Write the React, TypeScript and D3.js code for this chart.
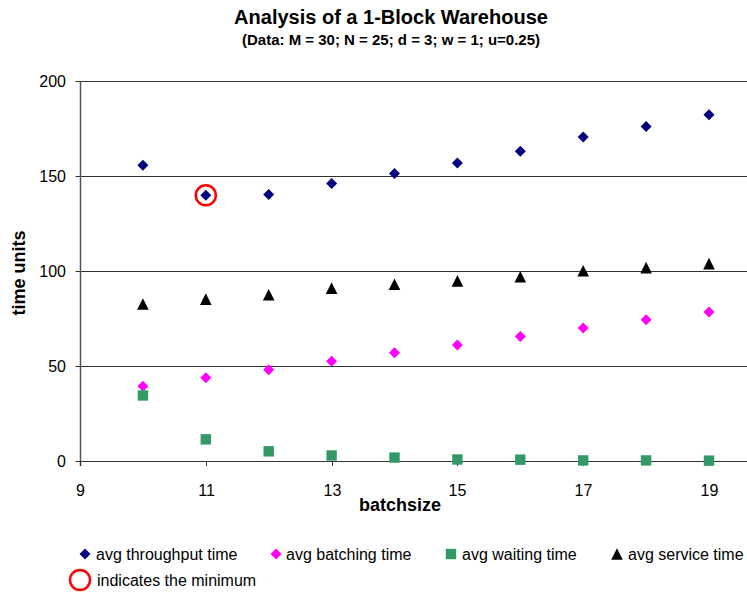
import React from "react";
import * as d3 from "d3";

const batchsize = [10, 11, 12, 13, 14, 15, 16, 17, 18, 19];
const throughput = [155.6, 139.9, 140.3, 146, 151.3, 156.9, 163, 170.5, 176, 182.3];
const batching = [39.3, 43.8, 48, 52.5, 57, 61, 65.5, 70, 74.4, 78.4];
const waiting = [34.5, 11.4, 5.1, 2.9, 1.8, 0.8, 0.7, 0.3, 0.3, 0.2];
const service = [82.6, 85.2, 87.5, 91, 93, 94.8, 97, 100.1, 101.8, 103.9];
const xTicks = [9, 11, 13, 15, 17, 19];
const yTicks = [0, 50, 100, 150, 200];
const minimumX = 11;
const minimumY = 139.9;

const W = 747;
const H = 592;
const FONT = "Arial, 'Liberation Sans', sans-serif";

const x = d3.scaleLinear().domain([9, 20]).range([80, 80 + 11 * 62.9]);
const y = d3.scaleLinear().domain([0, 200]).range([461, 81]);

const diamond = (cx: number, cy: number, r = 5.5) =>
  `M${cx},${cy - r}L${cx + r},${cy}L${cx},${cy + r}L${cx - r},${cy}Z`;
const square = (cx: number, cy: number, r = 5.2) =>
  `M${cx - r},${cy - r}H${cx + r}V${cy + r}H${cx - r}Z`;
const triangle = (cx: number, cy: number, r = 5.8) =>
  `M${cx},${cy - r}L${cx + r},${cy + r}L${cx - r},${cy + r}Z`;

const series = [
  { name: "avg throughput time", values: throughput, color: "#000080", shape: diamond },
  { name: "avg batching time", values: batching, color: "#FF00FF", shape: diamond },
  { name: "avg waiting time", values: waiting, color: "#339966", shape: square },
  { name: "avg service time", values: service, color: "#000000", shape: triangle },
];

const legendPos = [
  { mx: 85, tx: 96 },
  { mx: 276, tx: 286 },
  { mx: 451, tx: 462 },
  { mx: 617, tx: 628 },
];

export default function App() {
  const x0 = Math.round(x(9)) + 0.5;
  return (
    <svg
      width={W}
      height={H}
      style={{ position: "absolute", left: 0, top: 0, background: "#fff" }}
      fontFamily={FONT}
    >
      <rect x={0} y={0} width={W} height={H} fill="#fff" />
      <text x={391} y={24} textAnchor="middle" fontSize={20} fontWeight="bold">
        Analysis of a 1-Block Warehouse
      </text>
      <text x={391} y={45} textAnchor="middle" fontSize={15} fontWeight="bold">
        (Data: M = 30; N = 25; d = 3; w = 1; u=0.25)
      </text>

      {yTicks.map((t) => {
        const yy = Math.round(y(t)) + 0.5;
        return (
          <g key={t}>
            <line x1={x0 - 5} x2={W} y1={yy} y2={yy} stroke="#333" strokeWidth={1.2} />
            <text x={66} y={yy} dy="0.35em" textAnchor="end" fontSize={16}>
              {t}
            </text>
          </g>
        );
      })}
      <line x1={x0} x2={x0} y1={y(200)} y2={y(0) + 5} stroke="#555" strokeWidth={1.5} />
      {xTicks.map((t) => {
        const xx = Math.round(x(t)) + 0.5;
        return (
          <g key={t}>
            <line x1={xx} x2={xx} y1={y(0)} y2={y(0) + 5} stroke="#333" strokeWidth={1} />
            <text x={xx} y={496} textAnchor="middle" fontSize={16}>
              {t}
            </text>
          </g>
        );
      })}

      {series.map((s) => (
        <g key={s.name}>
          {s.values.map((v, i) => (
            <path key={i} d={s.shape(x(batchsize[i]), y(v))} fill={s.color} />
          ))}
        </g>
      ))}

      <circle cx={x(minimumX)} cy={y(minimumY)} r={10} fill="none" stroke="#FF0000" strokeWidth={2.5} />

      <text x={400} y={511} textAnchor="middle" fontSize={18} fontWeight="bold">
        batchsize
      </text>
      <text
        transform={`translate(25,273) rotate(-90)`}
        textAnchor="middle"
        fontSize={18}
        fontWeight="bold"
      >
        time units
      </text>

      {series.map((s, i) => (
        <g key={s.name}>
          <path d={s.shape(legendPos[i].mx, 554)} fill={s.color} />
          <text x={legendPos[i].tx} y={554} dy="0.35em" fontSize={16}>
            {s.name}
          </text>
        </g>
      ))}
      <circle cx={80} cy={580} r={10} fill="none" stroke="#FF0000" strokeWidth={2.5} />
      <text x={97} y={580} dy="0.35em" fontSize={16}>
        indicates the minimum
      </text>
    </svg>
  );
}
